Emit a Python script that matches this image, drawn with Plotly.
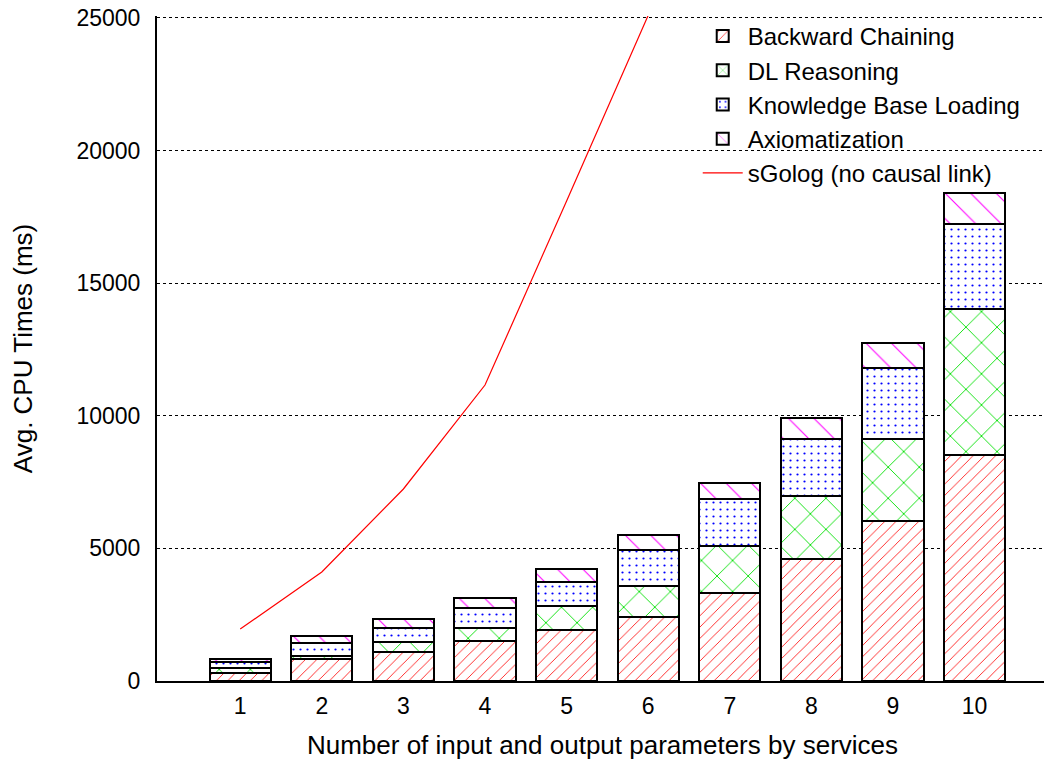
import plotly.graph_objects as go

params = [1, 2, 3, 4, 5, 6, 7, 8, 9, 10]
backward_chaining = [300, 830, 1105, 1510, 1935, 2400, 3320, 4600, 6030, 8510]
dl_reasoning = [180, 115, 350, 475, 880, 1195, 1785, 2375, 3080, 5505]
kb_loading = [250, 475, 555, 755, 920, 1355, 1750, 2140, 2690, 3215]
axiomatization = [100, 275, 325, 400, 490, 555, 625, 800, 955, 1180]

sgolog_x = [1, 2, 3, 4, 5, 6]
sgolog = [1960, 4110, 7240, 11160, 18100, 25100]

y_ticks = [0, 5000, 10000, 15000, 20000, 25000]

FONT = "Liberation Sans, Arial, sans-serif"

SERIES = [
    ("Backward Chaining", backward_chaining, "#ff0000", "/", 8, 0.1),
    ("DL Reasoning", dl_reasoning, "#00e000", "x", 22, 0.08),
    ("Knowledge Base Loading", kb_loading, "#0000ff", ".", 7, 0.08),
    ("Axiomatization", axiomatization, "#ff00ff", "\\", 18, 0.06),
]

fig = go.Figure()
for name, vals, color, shape, size, solid in SERIES:
    fig.add_trace(go.Bar(
        x=params,
        y=vals,
        name=name,
        width=0.75,
        marker=dict(
            color="white",
            line=dict(color="black", width=2),
            pattern=dict(shape=shape, fgcolor=color, bgcolor="white", fgopacity=1,
                         size=size, solidity=solid, fillmode="overlay"),
        ),
    ))

fig.add_trace(go.Scatter(
    x=sgolog_x,
    y=sgolog,
    name="sGolog (no causal link)",
    mode="lines",
    line=dict(color="#ff0000", width=1.2),
))

# the page adds an 8px body margin, so the figure is a bit smaller than the window;
# the y range goes a hair past 25000 so the top dotted grid line still gets drawn
fig.update_layout(
    barmode="stack",
    width=1044,
    height=756,
    margin=dict(l=149, r=4, t=8, b=83),
    paper_bgcolor="white",
    plot_bgcolor="white",
    font=dict(family=FONT, size=22, color="black"),
    legend=dict(
        x=0.975, y=1.003, xanchor="right", yanchor="top",
        traceorder="normal",
        bgcolor="rgba(0,0,0,0)",
        font=dict(size=24),
        tracegroupgap=0,
        itemwidth=40,
    ),
    xaxis=dict(
        range=[-0.02, 10.9],
        tickvals=params,
        ticks="",
        tickfont=dict(size=23),
        showgrid=False,
        showline=True,
        linecolor="black",
        linewidth=2,
        zeroline=False,
        automargin=False,
        ticklabelstandoff=3,
        title=dict(text="Number of input and output parameters by services",
                   font=dict(size=26), standoff=18),
    ),
    yaxis=dict(
        range=[0, 25075],
        tickvals=y_ticks,
        ticktext=[str(v) for v in y_ticks],
        ticks="",
        tickfont=dict(size=23),
        ticklabeloverflow="allow",
        showgrid=True,
        gridcolor="black",
        gridwidth=1,
        griddash="dot",
        showline=True,
        linecolor="black",
        linewidth=2,
        zeroline=False,
        automargin=False,
        ticklabelstandoff=10,
        title=dict(text="Avg. CPU Times (ms)", font=dict(size=26), standoff=44),
    ),
)

fig.write_html("out.html")
